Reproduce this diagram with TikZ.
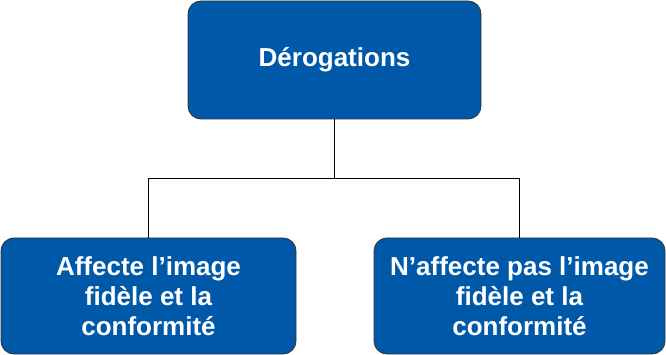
\documentclass[tikz,border=0pt]{standalone}
\usepackage{fontspec}
\setmainfont{Liberation Sans}
\usetikzlibrary{positioning}
\definecolor{derblue}{RGB}{0,89,168}

\begin{document}
\begin{tikzpicture}[x=1pt,y=-1pt]
\tikzstyle{block} = [rectangle, draw=black!80, line width=0.9pt, fill=derblue,
text=white, font=\fontsize{26}{30}\selectfont\bfseries, align=center,
rounded corners=13pt, inner sep=0pt]
\tikzstyle{line} = [draw, line width=0.9pt];
\useasboundingbox (0,0) rectangle (666,355);
% top
\node [block, minimum width=293pt, minimum height=118pt] (derog) at (334.5,60) {Dérogations};
% row 2
\node [block, minimum width=295pt, minimum height=116pt] (affecte) at (148.5,296)
{Affecte l’image\\fidèle et la\\conformité};
\node [block, minimum width=291pt, minimum height=116pt] (naffecte) at (519.5,296)
{N’affecte pas l’image\\fidèle et la\\conformité};
\coordinate (split) at (334.5,178);
\tikzstyle{every path}=[line]
\path (derog.south) -- (split);
\path (split) -| (affecte.north);
\path (split) -| (naffecte.north);
\end{tikzpicture}
\end{document}
